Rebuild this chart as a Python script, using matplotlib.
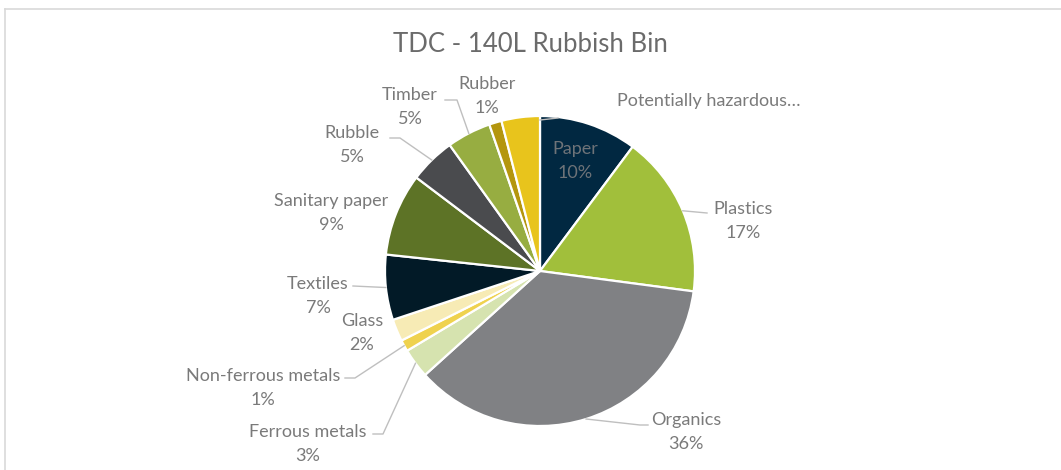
import numpy as np
import matplotlib
matplotlib.use('Agg')
import matplotlib.pyplot as plt

W, H = 1061, 470

categorias = ['Paper', 'Plastics', 'Organics', 'Ferrous metals', 'Non-ferrous metals',
              'Glass', 'Textiles', 'Sanitary paper', 'Rubble', 'Timber', 'Rubber',
              'Potentially hazardous…']
valores = [10.2, 16.9, 36.2, 3.1, 1.2, 2.3, 6.8, 8.6, 4.8, 4.6, 1.3, 4.0]
cores = ['#012841', '#A1BF3B', '#808184', '#D6E3AF', '#EFD24E', '#F7EBB5',
         '#021A27', '#5D7326', '#4A4B4E', '#97AD41', '#B4960E', '#E8C41C']

plt.rcParams['font.family'] = ['Lato', 'DejaVu Sans']
fig = plt.figure(figsize=(W / 100, H / 100), dpi=100)
ax = fig.add_axes([0, 0, 1, 1])

def py(y):  # converte y de pixel (topo) para coordenada do eixo
    return H - y

cx, cy, r = 540, 271, 155
fatias, _ = ax.pie(valores, colors=cores, startangle=90, counterclock=False,
                   center=(cx, py(cy)), radius=r,
                   wedgeprops=dict(edgecolor='white', linewidth=1.6))
ax.set_xlim(0, W)
ax.set_ylim(0, H)
ax.set_aspect('equal')
ax.axis('off')

# moldura do gráfico (cortada à direita e embaixo)
ax.plot([5, W], [py(9), py(9)], color='#D9D9D9', lw=1.2, clip_on=False)
ax.plot([5, 5], [py(9), 0], color='#D9D9D9', lw=1.2, clip_on=False)

ax.text(530, py(45), 'TDC - 140L Rubbish Bin', ha='center', va='center',
        fontsize=18.5, color='#6B6B6B')

# posição do texto (centro, px), cotovelo do traço, ponta do traço junto ao texto
rotulos = {
    'Paper': ((575, 161), None, None),
    'Plastics': ((743, 221), None, (707, 213)),
    'Organics': ((686, 432), (640, 425), (648, 425)),
    'Ferrous metals': ((308, 444), (383, 434), (373, 434)),
    'Non-ferrous metals': ((263, 388), (355, 378), (345, 378)),
    'Glass': ((362, 333), None, None),
    'Textiles': ((318, 296), None, (353, 286)),
    'Sanitary paper': ((331, 213), None, None),
    'Rubble': ((352, 145), (400, 138), (390, 138)),
    'Timber': ((410, 107), (457, 100), (445, 100)),
    'Rubber': ((487, 96), None, None),
}

cor_texto = '#7A7A7A'
fs = 13
for w, nome, v in zip(fatias, categorias, valores):
    meio = np.deg2rad((w.theta1 + w.theta2) / 2)
    ancora = (cx + r * np.cos(meio), py(cy) + r * np.sin(meio))
    if nome.startswith('Potentially'):
        ax.text(617, py(101), nome, ha='left', va='center', fontsize=fs, color=cor_texto)
        a = np.deg2rad(w.theta1)
        ax.plot([cx + (r - 4) * np.cos(a), 558], [py(cy) + (r - 4) * np.sin(a), py(118)],
                color='#BFBFBF', lw=1)
        continue
    (tx, ty), cotovelo, ponta = rotulos[nome]
    cor = cor_texto if nome != 'Paper' else '#6E7378'
    ax.text(tx, py(ty), f'{nome}\n{round(v)}%', ha='center', va='center',
            fontsize=fs, color=cor, linespacing=1.6)
    if ponta is not None:
        xs = [ancora[0]]
        ys = [ancora[1]]
        if cotovelo is not None:
            xs.append(cotovelo[0]); ys.append(py(cotovelo[1]))
        xs.append(ponta[0]); ys.append(py(ponta[1]))
        ax.plot(xs, ys, color='#BFBFBF', lw=1)

fig.savefig('out.png', dpi=100, facecolor='white')
